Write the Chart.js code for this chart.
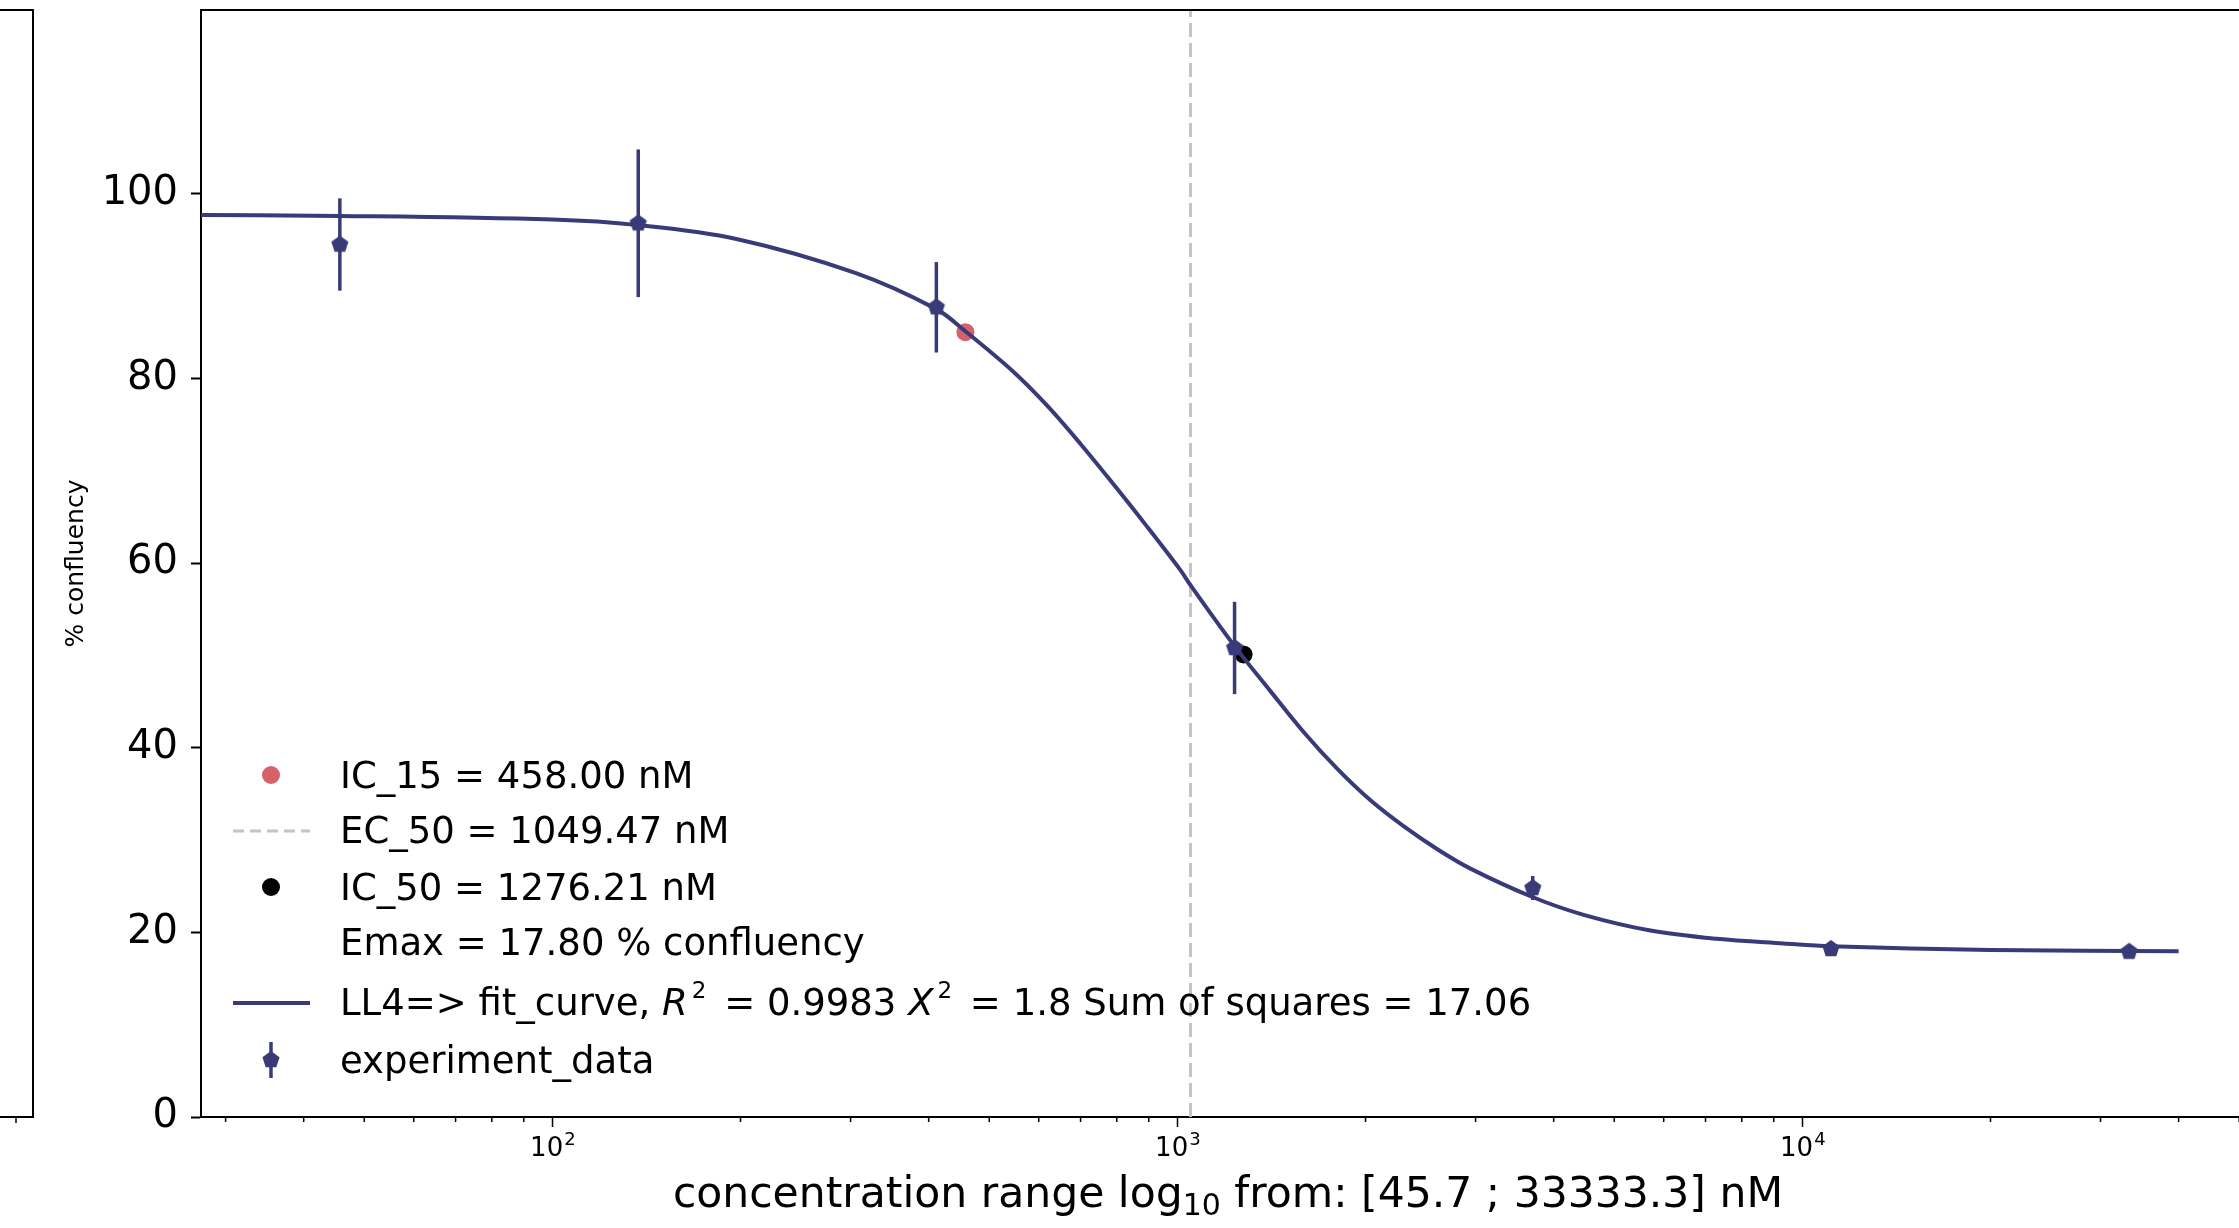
<!DOCTYPE html>
<html>
<head>
<meta charset="utf-8">
<script src="https://cdn.jsdelivr.net/npm/chart.js@4.4.0/dist/chart.umd.min.js"></script>
<style>
  html, body { margin: 0; padding: 0; background: #fff; overflow: hidden; }
  #wrap { width: 2239px; height: 1228px; overflow: hidden; position: relative; }
  canvas { display: block; }
</style>
</head>
<body>
<div id="wrap"><canvas id="chart" width="2280" height="1228"></canvas></div>
<script>
// Measured points (nM, % confluency) with their error bars.
const concentrations = [45.7, 137.2, 411.5, 1234.6, 3703.7, 11111.1, 33333.3];
const confluency = [94.5, 96.8, 87.7, 50.8, 24.8, 18.2, 17.9];
const confluencyErr = [5.0, 8.0, 4.9, 5.0, 1.3, 0.5, 0.4];

// LL4 fit curve at a set of concentrations.
const fitConc = [25, 45.7, 100, 137.2, 197, 306, 411.5, 458, 547, 618, 700, 791, 893,
    1012, 1049.5, 1234.6, 1410, 1592, 1803, 2037, 2301, 2606, 2944, 3707, 4467,
    5715, 7295, 9333, 11111, 20000, 40000];
const fitValues = [97.7, 97.6, 97.2, 96.6, 95.1, 91.4, 87.5, 85.1, 80.7, 77.1, 72.9, 68.5, 64.0,
    59.2, 57.6, 51.0, 46.1, 41.7, 37.7, 34.3, 31.5, 29.0, 26.9, 23.8, 21.9,
    20.2, 19.3, 18.8, 18.5, 18.1, 17.95];

// Summary markers.
const ic15Point = [458.0, 85.0];
const ic50Point = [1276.21, 50.1];
const ec50Conc = 1049.47;

// Axes.
const X_MIN = 27.4;
const X_MAX = 53000;
const Y_MIN = 0;
const Y_MAX = 119.9;
const yTicks = [0, 20, 40, 60, 80, 100];
const xMajorTicks = [100, 1000, 10000];
const xMinorTicks = [30, 40, 50, 60, 70, 80, 90, 200, 300, 400, 500, 600, 700, 800, 900,
    2000, 3000, 4000, 5000, 6000, 7000, 8000, 9000, 20000, 30000, 40000, 50000];
const xTickBase = "10";
const xTickExp = { 100: "2", 1000: "3", 10000: "4" };

const yTitle = "% confluency";
const xTitleParts = ["concentration range log", "10", " from: [45.7 ; 33333.3] nM"];

const legendLabels = [
    "IC_15 = 458.00 nM",
    "EC_50 = 1049.47 nM",
    "IC_50 = 1276.21 nM",
    "Emax = 17.80 % confluency",
    null,
    "experiment_data",
];
// rich label for the fit line: [text, style]
const fitLabelParts = [
    ["LL4=> fit_curve, ", ""], ["R", "i"], ["2", "sup"], [" = 0.9983 ", ""],
    ["X", "i"], ["2", "sup"], [" = 1.8 Sum of squares = 17.06", ""],
];

const NAVY = "#393b79";
const RED = "#d6616b";
const GREY = "#c4c4c4";
const FONT = '"DejaVu Sans", sans-serif';

function pentagon(r, color) {
    const s = Math.ceil(2 * r + 2);
    const c = document.createElement("canvas");
    c.width = s;
    c.height = s;
    const g = c.getContext("2d");
    g.fillStyle = color;
    g.beginPath();
    for (let i = 0; i < 5; i++) {
        const a = -Math.PI / 2 + i * 2 * Math.PI / 5;
        const px = s / 2 + r * Math.cos(a);
        const py = s / 2 + r * Math.sin(a);
        if (i) g.lineTo(px, py); else g.moveTo(px, py);
    }
    g.closePath();
    g.fill();
    return c;
}
const PENT = pentagon(9, NAVY);

const EXP_INDEX = 3;

// error bars under the pentagons
const errorBars = {
    id: "errorBars",
    beforeDatasetDraw(chart, args) {
        if (args.index !== EXP_INDEX) return;
        const { ctx, scales: { x, y } } = chart;
        ctx.save();
        ctx.strokeStyle = NAVY;
        ctx.lineWidth = 3.5;
        concentrations.forEach((c, i) => {
            const px = x.getPixelForValue(c);
            ctx.beginPath();
            ctx.moveTo(px, y.getPixelForValue(confluency[i] + confluencyErr[i]));
            ctx.lineTo(px, y.getPixelForValue(confluency[i] - confluencyErr[i]));
            ctx.stroke();
        });
        ctx.restore();
    },
};

// spines, minor ticks, tick labels, titles, legend and the cut-off neighbour panel
const decor = {
    id: "decor",
    afterDraw(chart) {
        const { ctx, chartArea: a, scales: { x } } = chart;
        ctx.save();
        ctx.strokeStyle = "#000";

        // top spine
        ctx.lineWidth = 2;
        ctx.beginPath();
        ctx.moveTo(a.left, a.top);
        ctx.lineTo(a.right + 5, a.top);
        ctx.stroke();

        // neighbouring panel's right edge
        ctx.beginPath();
        ctx.moveTo(0, a.top);
        ctx.lineTo(33, a.top);
        ctx.lineTo(33, a.bottom);
        ctx.lineTo(0, a.bottom);
        ctx.stroke();
        ctx.lineWidth = 1.5;
        ctx.beginPath();
        ctx.moveTo(16, a.bottom);
        ctx.lineTo(16, a.bottom + 6);
        ctx.stroke();

        // minor x ticks
        xMinorTicks.forEach(v => {
            const px = x.getPixelForValue(v);
            ctx.beginPath();
            ctx.moveTo(px, a.bottom);
            ctx.lineTo(px, a.bottom + 5);
            ctx.stroke();
        });

        ctx.fillStyle = "#000";
        ctx.textBaseline = "alphabetic";

        // major x tick labels: 10 with a raised exponent
        const baseF = "26px " + FONT;
        const expF = "18px " + FONT;
        xMajorTicks.forEach(v => {
            const px = x.getPixelForValue(v);
            ctx.font = baseF;
            const wb = ctx.measureText(xTickBase).width;
            ctx.font = expF;
            const we = ctx.measureText(xTickExp[v]).width;
            const sx = px - (wb + we) / 2;
            ctx.font = baseF;
            ctx.textAlign = "left";
            ctx.fillText(xTickBase, sx, 1156);
            ctx.font = expF;
            ctx.fillText(xTickExp[v], sx + wb + 1, 1145);
        });

        // y title
        ctx.save();
        ctx.translate(76, (a.top + a.bottom) / 2);
        ctx.rotate(-Math.PI / 2);
        ctx.font = "25px " + FONT;
        ctx.textAlign = "center";
        ctx.textBaseline = "middle";
        ctx.fillText(yTitle, 0, 0);
        ctx.restore();

        // x title with subscript
        const mainF = "42.5px " + FONT;
        const subF = "30px " + FONT;
        ctx.textAlign = "left";
        ctx.font = mainF;
        const w0 = ctx.measureText(xTitleParts[0]).width;
        const w2 = ctx.measureText(xTitleParts[2]).width;
        ctx.font = subF;
        const w1 = ctx.measureText(xTitleParts[1]).width;
        let tx = (a.left + a.right) / 2 - (w0 + w1 + w2) / 2;
        const ty = 1207;
        ctx.font = mainF;
        ctx.fillText(xTitleParts[0], tx, ty);
        tx += w0;
        ctx.font = subF;
        ctx.fillText(xTitleParts[1], tx, ty + 8);
        tx += w1;
        ctx.font = mainF;
        ctx.fillText(xTitleParts[2], tx, ty);

        // legend
        const textX = 340;
        const baselines = [788, 843, 900, 955, 1015, 1073];
        const handleY = [775, 831, 887, 943, 1003, 1060];
        const legF = "37px " + FONT;
        ctx.font = legF;
        legendLabels.forEach((t, i) => {
            if (t) ctx.fillText(t, textX, baselines[i]);
        });
        // rich fit label
        let lx = textX;
        fitLabelParts.forEach(([t, st]) => {
            let f = legF, dy = 0;
            if (st === "i") f = "italic 37px " + FONT;
            if (st === "sup") { f = "23px " + FONT; dy = -17; lx += 4; }
            ctx.font = f;
            ctx.fillText(t, lx, baselines[4] + dy);
            lx += ctx.measureText(t).width;
            if (st === "sup") lx += 6;
        });

        // handles
        ctx.fillStyle = RED;
        ctx.beginPath();
        ctx.arc(271, handleY[0], 9, 0, 2 * Math.PI);
        ctx.fill();

        ctx.strokeStyle = GREY;
        ctx.lineWidth = 3;
        ctx.setLineDash([11, 6]);
        ctx.beginPath();
        ctx.moveTo(233, handleY[1]);
        ctx.lineTo(310, handleY[1]);
        ctx.stroke();
        ctx.setLineDash([]);

        ctx.fillStyle = "#000";
        ctx.beginPath();
        ctx.arc(271, handleY[2], 9, 0, 2 * Math.PI);
        ctx.fill();

        ctx.strokeStyle = NAVY;
        ctx.lineWidth = 4;
        ctx.beginPath();
        ctx.moveTo(233, handleY[4]);
        ctx.lineTo(310, handleY[4]);
        ctx.stroke();

        ctx.lineWidth = 3.5;
        ctx.beginPath();
        ctx.moveTo(271, handleY[5] - 18);
        ctx.lineTo(271, handleY[5] + 18);
        ctx.stroke();
        ctx.drawImage(PENT, 271 - PENT.width / 2, handleY[5] - PENT.height / 2);

        ctx.restore();
    },
};

const pts = (xs, ys) => xs.map((v, i) => ({ x: v, y: ys[i] }));

new Chart(document.getElementById("chart"), {
    type: "scatter",
    data: {
        datasets: [
            {
                type: "line",
                label: "EC_50",
                data: [{ x: ec50Conc, y: Y_MIN }, { x: ec50Conc, y: Y_MAX }],
                borderColor: GREY,
                borderWidth: 3,
                borderDash: [14, 6],
                pointRadius: 0,
                order: 5,
            },
            {
                label: "IC",
                data: [{ x: ic15Point[0], y: ic15Point[1] }, { x: ic50Point[0], y: ic50Point[1] }],
                backgroundColor: [RED, "#000"],
                borderWidth: 0,
                pointRadius: 9,
                order: 4,
            },
            {
                type: "line",
                label: "fit_curve",
                data: pts(fitConc, fitValues),
                borderColor: NAVY,
                borderWidth: 4,
                pointRadius: 0,
                tension: 0.35,
                order: 3,
            },
            {
                label: "experiment_data",
                data: pts(concentrations, confluency),
                pointStyle: PENT,
                pointRadius: 9,
                order: 1,
            },
        ],
    },
    options: {
        responsive: false,
        animation: false,
        devicePixelRatio: 1,
        events: [],
        layout: { padding: { top: 8, right: 25, left: 0, bottom: 0 } },
        plugins: { legend: { display: false }, tooltip: { enabled: false } },
        scales: {
            x: {
                type: "logarithmic",
                min: X_MIN,
                max: X_MAX,
                afterBuildTicks: s => {
                    s.ticks = xMajorTicks.concat(xMinorTicks).sort((p, q) => p - q).map(v => ({ value: v }));
                },
                afterFit: s => {
                    s.height = 111;
                    s.paddingLeft = 0;
                    s.paddingRight = 0;
                },
                ticks: {
                    autoSkip: false,
                    maxRotation: 0,
                    callback: () => "",
                },
                grid: {
                    drawOnChartArea: false,
                    tickLength: 10,
                    tickWidth: 1.5,
                    tickColor: c => (c.tick && xTickExp[c.tick.value]) ? "#000" : "rgba(0,0,0,0)",
                },
                border: { color: "#000", width: 2 },
            },
            y: {
                min: Y_MIN,
                max: Y_MAX,
                afterBuildTicks: s => { s.ticks = yTicks.map(v => ({ value: v })); },
                afterFit: s => {
                    s.width = 201;
                    s.paddingTop = 0;
                    s.paddingBottom = 0;
                },
                ticks: {
                    padding: 13,
                    color: "#000",
                    font: { family: FONT, size: 40 },
                },
                grid: {
                    drawOnChartArea: false,
                    tickLength: 10,
                    tickWidth: 2,
                    tickColor: "#000",
                },
                border: { color: "#000", width: 2 },
            },
        },
    },
    plugins: [errorBars, decor],
});
</script>
</body>
</html>
